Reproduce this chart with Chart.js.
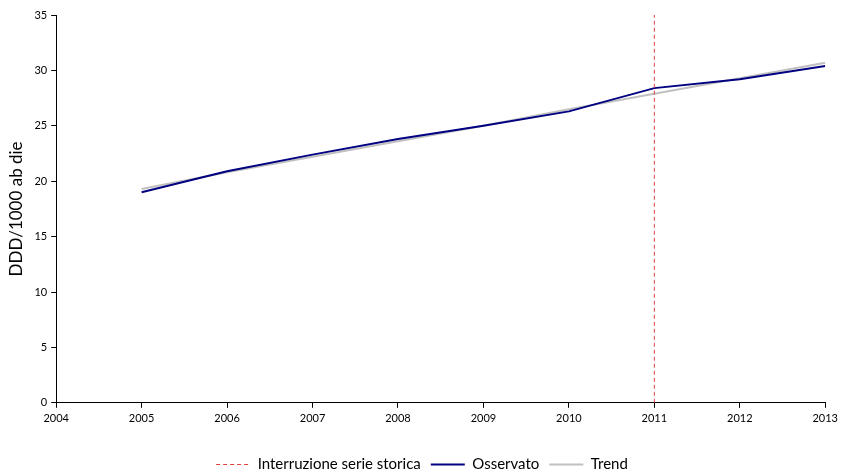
<!DOCTYPE html>
<html>
<head>
<meta charset="utf-8">
<script src="https://cdn.jsdelivr.net/npm/chart.js@4/dist/chart.umd.min.js"></script>
<style>
  html, body { margin: 0; padding: 0; background: #fff; }
  #wrap { width: 842px; height: 474px; }
</style>
</head>
<body>
<div id="wrap"><canvas id="trendChart"></canvas></div>
<script>
// data
const years = [2005, 2006, 2007, 2008, 2009, 2010, 2011, 2012, 2013];
const observed = [19.0, 20.9, 22.4, 23.8, 25.0, 26.3, 28.4, 29.2, 30.4];
const trend = [19.3, 20.8, 22.2, 23.6, 25.0, 26.5, 27.9, 29.3, 30.7];
const breakYear = 2011;
const yRange = [0, 35];

const toPoints = (vals) => years.map((y, i) => ({ x: y, y: vals[i] }));

const ctx = document.getElementById('trendChart').getContext('2d');

let chart = new Chart(ctx, {
    type: 'line',
    data: {
        datasets: [{
            label: 'Interruzione serie storica',
            data: [{ x: breakYear, y: yRange[0] }, { x: breakYear, y: yRange[1] }],
            borderColor: '#e04040',
            borderWidth: 1,
            borderDash: [4, 3],
            pointRadius: 0
        }, {
            label: 'Osservato',
            data: toPoints(observed),
            borderColor: '#000080',
            borderWidth: 2,
            pointRadius: 0
        }, {
            label: 'Trend',
            data: toPoints(trend),
            borderColor: '#c0c0c0',
            borderWidth: 2,
            pointRadius: 0
        }]
    },
    options: {
        responsive: true,
        maintainAspectRatio: false,
        animation: false,
        layout: { padding: { top: 15, right: 4, left: 6, bottom: -8 } },
        plugins: {
            tooltip: { enabled: false },
            legend: {
                position: 'bottom',
                labels: {
                    usePointStyle: true,
                    pointStyle: 'line',
                    pointStyleWidth: 34,
                    boxHeight: 2,
                    padding: 10,
                    color: '#000',
                    font: { family: 'Lato', size: 15, lineHeight: 0.8 },
                    // keep the dash of each dataset in the legend sample
                    generateLabels: function(chart) {
                        const items = Chart.defaults.plugins.legend.labels.generateLabels(chart);
                        items.forEach(function(item) {
                            const ds = chart.data.datasets[item.datasetIndex];
                            item.lineDash = ds.borderDash || [];
                            item.lineWidth = ds.borderWidth;
                            item.strokeStyle = ds.borderColor;
                        });
                        return items;
                    }
                }
            }
        },
        scales: {
            x: {
                type: 'linear',
                min: 2004,
                max: 2013,
                ticks: {
                    stepSize: 1,
                    color: '#000',
                    font: { family: 'Lato', size: 11 },
                    callback: (v) => String(v),
                    maxRotation: 0,
                    padding: 4
                },
                grid: { drawOnChartArea: false, color: '#000', tickLength: 5 },
                border: { color: '#000' },
                // empty title only used as spacing above the legend
                title: {
                    display: true,
                    text: ' ',
                    font: { size: 14, lineHeight: 1 },
                    padding: { top: 0, bottom: 4 }
                }
            },
            y: {
                min: yRange[0],
                max: yRange[1],
                ticks: {
                    stepSize: 5,
                    color: '#000',
                    font: { family: 'Lato', size: 11 },
                    padding: 4
                },
                grid: { drawOnChartArea: false, color: '#000', tickLength: 5 },
                border: { color: '#000' },
                title: {
                    display: true,
                    text: 'DDD/1000 ab die',
                    color: '#000',
                    font: { family: 'Lato', size: 17 },
                    padding: { top: 0, bottom: 4 }
                }
            }
        }
    }
});
</script>
</body>
</html>
